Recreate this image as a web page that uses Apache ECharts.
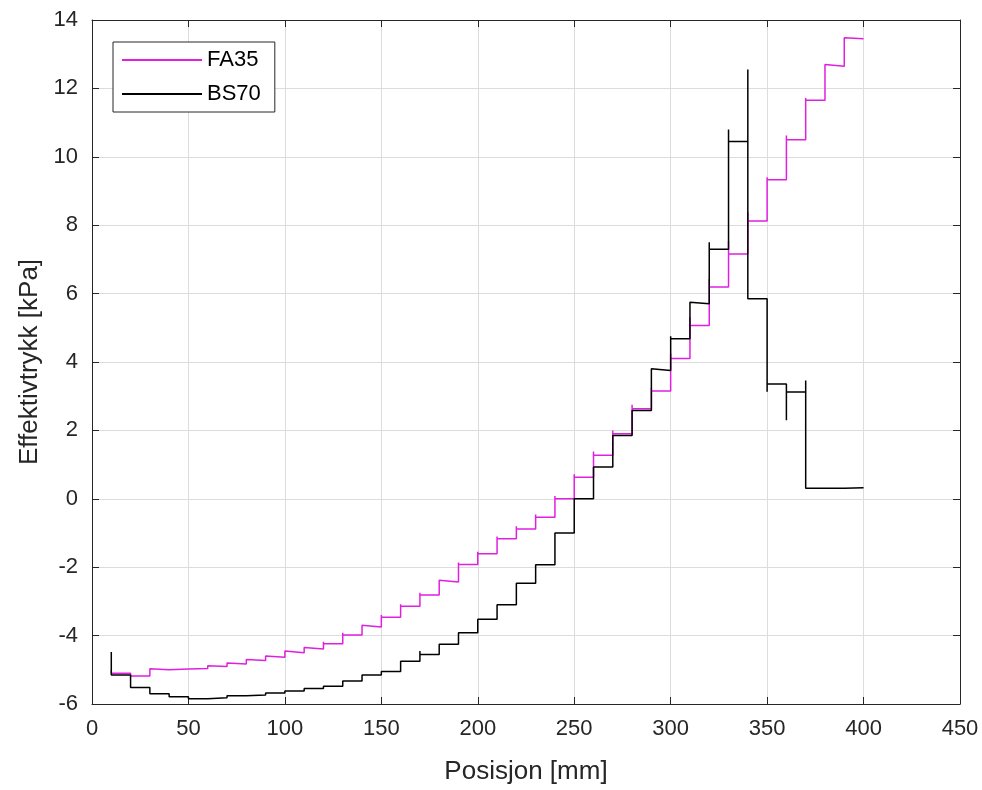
<!DOCTYPE html>
<html>
<head>
    <meta charset="utf-8" />
    <script src="https://cdn.jsdelivr.net/npm/echarts@6/dist/echarts.min.js"></script>
    <title></title>
    <style>
        body { margin: 0; background: #fff; }
        #main { width: 982px; height: 790px; }
    </style>
</head>
<body>
    <div id="main"></div>
    <script type="text/javascript">
        // posisjon der hvert trinn starter [mm], siste trinn slutter ved 400
        var stepStart = [10, 20, 30, 40, 50, 60, 70, 80, 90, 100, 110, 120, 130, 140, 150, 160, 170, 180, 190, 200,
                         210, 220, 230, 240, 250, 260, 270, 280, 290, 300, 310, 320, 330, 340, 350, 360, 370, 380, 390];
        var stepEnd = 400;

        // FA35: nivaa paa hvert trinn og toppen rett ved overgangen
        var fa35Level = [-5.10, -5.18, -5.00, -4.98, -4.96, -4.90, -4.83, -4.73, -4.63, -4.50,
                         -4.39, -4.24, -3.98, -3.75, -3.46, -3.14, -2.81, -2.43, -1.92, -1.61,
                         -1.17, -0.88, -0.54, 0.00, 0.63, 1.27, 1.90, 2.63, 3.15, 4.10,
                         5.07, 6.19, 7.16, 8.12, 9.33, 10.50, 11.65, 12.65, 13.45];
        var fa35Peak  = [-5.02, -5.18, -4.97, -4.96, -4.94, -4.88, -4.80, -4.70, -4.60, -4.45,
                         -4.35, -4.18, -3.92, -3.70, -3.40, -3.08, -2.75, -2.38, -1.86, -1.55,
                         -1.10, -0.80, -0.46, 0.08, 0.72, 1.38, 2.00, 2.75, 3.25, 4.25,
                         5.31, 6.43, 7.53, 8.38, 9.40, 10.62, 11.72, 12.70, 13.48];

        // BS70
        var bs70Level = [-5.15, -5.52, -5.70, -5.79, -5.85, -5.82, -5.76, -5.74, -5.68, -5.62,
                         -5.55, -5.48, -5.33, -5.15, -5.05, -4.75, -4.55, -4.25, -3.92, -3.52,
                         -3.10, -2.47, -1.93, -1.00, 0.00, 0.93, 1.85, 2.58, 3.75, 4.68,
                         5.70, 7.30, 10.45, 5.85, 3.36, 3.12, 0.31, 0.31, 0.32];
        var bs70Peak  = [-4.48, -5.52, -5.70, -5.79, -5.85, -5.82, -5.76, -5.74, -5.68, -5.62,
                         -5.55, -5.48, -5.33, -5.15, -5.05, -4.75, -4.45, -4.25, -3.92, -3.52,
                         -3.10, -2.47, -1.93, -1.00, 0.00, 0.93, 1.85, 2.58, 3.80, 4.75,
                         5.75, 7.50, 10.80, 12.55, 3.13, 2.30, 3.46, 0.31, 0.32];

        var xTicks = [0, 450, 50];   // min, max, intervall
        var yTicks = [-6, 14, 2];

        function buildSteps(level, peak)
        {
            var pts = [];
            for (var i = 0; i < stepStart.length; i++)
            {
                var x0 = stepStart[i];
                var x1 = (i + 1 < stepStart.length) ? stepStart[i + 1] : stepEnd;
                pts.push([x0, peak[i]]);
                pts.push([x0, level[i]]);
                pts.push([x1, level[i]]);
            }
            return pts;
        }

        var axisColor = '#262626';
        var gridColor = '#dcdcdc';
        var font = 'Liberation Sans, Arial, Helvetica, sans-serif';

        var myChart = echarts.init(document.getElementById('main'));

        var option = {
            backgroundColor: '#fff',
            animation: false,
            textStyle: { fontFamily: font },
            grid: {
                left: 92,
                right: 22,
                top: 20,
                bottom: 86
            },
            legend: {
                orient: 'vertical',
                left: 113,
                top: 42,
                data: ['FA35', 'BS70'],
                icon: 'rect',
                itemWidth: 80,
                itemHeight: 2,
                itemGap: 12,
                padding: [7, 14, 7, 9],
                backgroundColor: '#fff',
                borderColor: axisColor,
                borderWidth: 1,
                borderRadius: 0,
                textStyle: { fontSize: 22, color: '#000', fontFamily: font, padding: [0, 0, 0, 0] }
            },
            xAxis: [
                {
                    type: 'value',
                    position: 'bottom',
                    min: xTicks[0],
                    max: xTicks[1],
                    interval: xTicks[2],
                    name: 'Posisjon [mm]',
                    nameLocation: 'middle',
                    nameGap: 55,
                    nameTextStyle: { fontSize: 26, color: axisColor, fontFamily: font },
                    axisLine: { show: true, onZero: false, lineStyle: { color: axisColor, width: 1 } },
                    axisTick: { show: true, inside: true, length: 7, lineStyle: { color: axisColor } },
                    axisLabel: { fontSize: 22, color: axisColor, margin: 14, fontFamily: font },
                    splitLine: { show: true, lineStyle: { color: gridColor, width: 1 } }
                },
                {
                    type: 'value',
                    position: 'top',
                    min: xTicks[0],
                    max: xTicks[1],
                    interval: xTicks[2],
                    axisLine: { show: true, onZero: false, lineStyle: { color: axisColor, width: 1 } },
                    axisTick: { show: true, inside: true, length: 7, lineStyle: { color: axisColor } },
                    axisLabel: { show: false },
                    splitLine: { show: false }
                }
            ],
            yAxis: [
                {
                    type: 'value',
                    position: 'left',
                    min: yTicks[0],
                    max: yTicks[1],
                    interval: yTicks[2],
                    name: 'Effektivtrykk [kPa]',
                    nameLocation: 'middle',
                    nameGap: 48,
                    nameTextStyle: { fontSize: 26, color: axisColor, fontFamily: font },
                    axisLine: { show: true, onZero: false, lineStyle: { color: axisColor, width: 1 } },
                    axisTick: { show: true, inside: true, length: 7, lineStyle: { color: axisColor } },
                    axisLabel: { fontSize: 22, color: axisColor, margin: 14, fontFamily: font },
                    splitLine: { show: true, lineStyle: { color: gridColor, width: 1 } }
                },
                {
                    type: 'value',
                    position: 'right',
                    min: yTicks[0],
                    max: yTicks[1],
                    interval: yTicks[2],
                    axisLine: { show: true, onZero: false, lineStyle: { color: axisColor, width: 1 } },
                    axisTick: { show: true, inside: true, length: 7, lineStyle: { color: axisColor } },
                    axisLabel: { show: false },
                    splitLine: { show: false }
                }
            ],
            series: [
                {
                    name: 'FA35',
                    type: 'line',
                    xAxisIndex: 0,
                    yAxisIndex: 0,
                    showSymbol: false,
                    data: buildSteps(fa35Level, fa35Peak),
                    itemStyle: { color: '#e020e0' },
                    lineStyle: { color: '#e020e0', width: 1.5 },
                    z: 3
                },
                {
                    name: 'BS70',
                    type: 'line',
                    xAxisIndex: 0,
                    yAxisIndex: 0,
                    showSymbol: false,
                    data: buildSteps(bs70Level, bs70Peak),
                    itemStyle: { color: '#000' },
                    lineStyle: { color: '#000', width: 1.5 },
                    z: 4
                }
            ]
        };

        myChart.setOption(option);
    </script>
</body>
</html>
